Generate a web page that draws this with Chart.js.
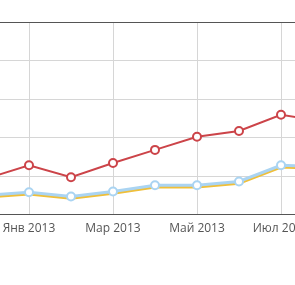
<!DOCTYPE html>
<html>
<head>
<meta charset="utf-8">
<script src="https://cdn.jsdelivr.net/npm/chart.js@4"></script>
<style>
  html, body { margin: 0; padding: 0; background: #fff; overflow: hidden; }
  #wrap { position: absolute; left: -20px; top: 0; width: 350px; height: 285px; }
</style>
</head>
<body>
<div id="wrap"><canvas id="chart"></canvas></div>
<script>
// месяцы (по одной точке на месяц)
const months = ["Дек 2012", "Янв 2013", "Фев 2013", "Мар 2013", "Апр 2013", "Май 2013", "Июн 2013", "Июл 2013", "Авг 2013"];

// значения серий
const redValues = [94, 128, 97, 134, 168, 202, 217, 259, 242];
const blueValues = [50, 58, 47, 60, 76, 76, 86, 128, 124];
const yellowValues = [45, 53, 42, 55, 71, 71, 81, 123, 119];

const yMax = 500;
const yStep = 100;

const ctx = document.getElementById("chart").getContext("2d");

new Chart(ctx, {
  type: "line",
  data: {
    labels: months,
    datasets: [
      {
        data: redValues,
        borderColor: "#cc4449",
        borderWidth: 2,
        pointRadius: 4,
        pointBorderWidth: 2,
        pointBackgroundColor: "#fff",
        pointBorderColor: "#cc4449",
        tension: 0
      },
      {
        data: blueValues,
        borderColor: "#aad4f2",
        borderWidth: 3,
        pointRadius: 4,
        pointBorderWidth: 2,
        pointBackgroundColor: "#fff",
        pointBorderColor: "#aad4f2",
        tension: 0
      },
      {
        data: yellowValues,
        borderColor: "#efbf3a",
        borderWidth: 2.5,
        pointRadius: 0,
        tension: 0
      }
    ]
  },
  options: {
    responsive: true,
    maintainAspectRatio: false,
    animation: false,
    layout: { padding: { top: 22, left: 0, right: 0, bottom: 42 } },
    plugins: {
      legend: { display: false },
      tooltip: { enabled: false }
    },
    scales: {
      x: {
        offset: false,
        border: { display: true, color: "#555", width: 1 },
        grid: {
          drawTicks: false,
          color: (c) => (c.index % 2 === 1 ? "#d6d6d6" : "rgba(0,0,0,0)")
        },
        ticks: {
          autoSkip: false,
          maxRotation: 0,
          padding: 7,
          color: "#555",
          font: { family: "Open Sans", size: 12 },
          callback: function (v, i) { return i % 2 === 1 ? months[i] : ""; }
        }
      },
      y: {
        min: 0,
        max: yMax,
        border: { display: false },
        grid: {
          drawTicks: false,
          color: (c) => (c.tick && c.tick.value === yMax ? "#555" : "#d6d6d6")
        },
        ticks: { display: false, stepSize: yStep }
      }
    }
  }
});
</script>
</body>
</html>
